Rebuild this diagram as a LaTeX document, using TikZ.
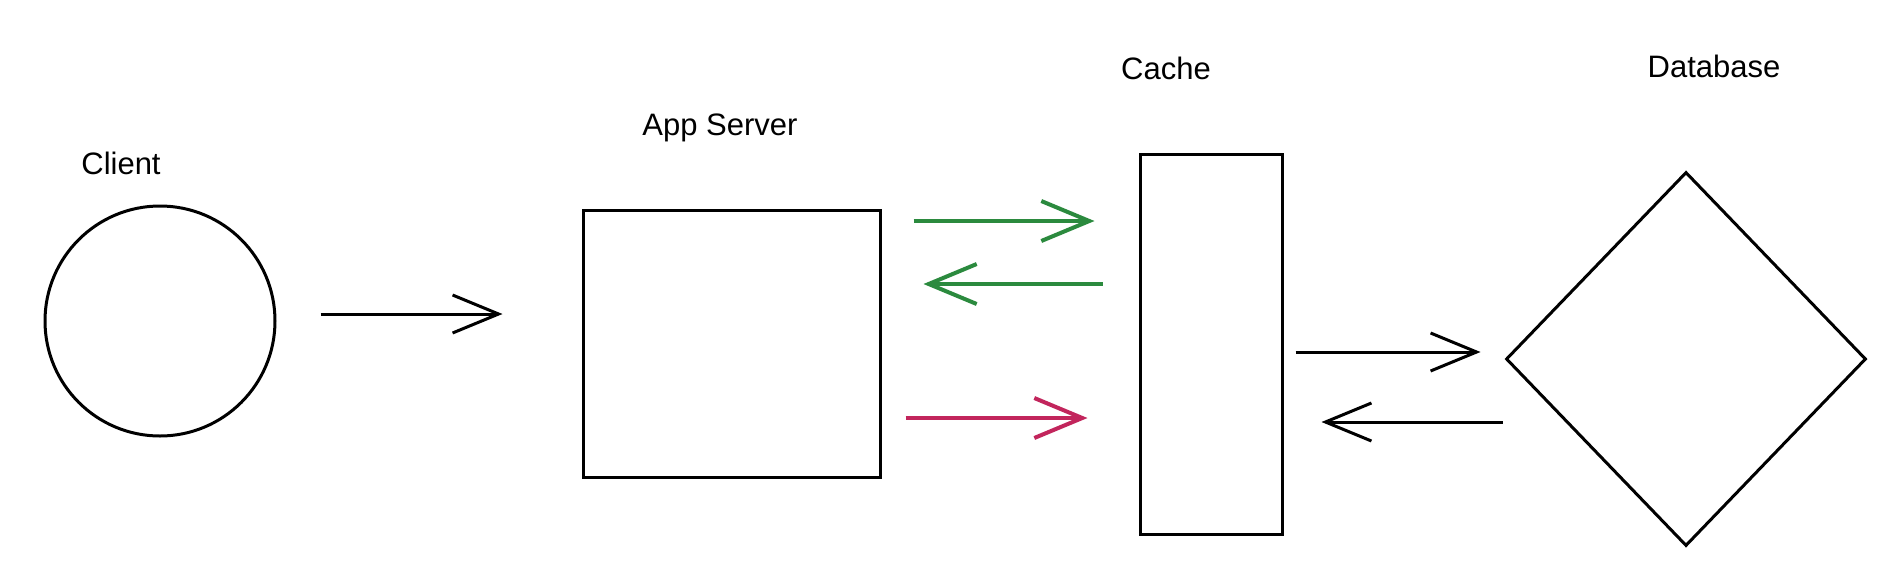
\documentclass[tikz,border=0pt]{standalone}
\usepackage{fontspec}
\setmainfont{Liberation Sans}
\usetikzlibrary{arrows.meta,shapes.geometric,calc}
\definecolor{exgreen}{HTML}{2B8A3E}
\definecolor{exred}{HTML}{C2255C}
\begin{document}
\begin{tikzpicture}[x=1pt,y=-1pt,
  shapeline/.style={draw=black,line width=3pt,inner sep=0pt,fill=white},
  lbl/.style={font=\fontsize{31}{37}\selectfont,inner sep=0pt},
  conn/.style={line width=3pt,-{Straight Barb[length=46pt,width=38pt,line width=3pt]}},
  cconn/.style={line width=4.5pt,-{Straight Barb[length=48pt,width=40pt,line width=4pt]}}]
\useasboundingbox[fill=white] (0,0) rectangle (1882,571);
% shapes
\node[shapeline,circle,minimum size=230pt] (client) at (160,321) {};
\node[shapeline,rectangle,minimum width=297pt,minimum height=267pt] (app) at (731.5,343.5) {};
\node[shapeline,rectangle,minimum width=142pt,minimum height=380pt] (cache) at (1211,344) {};
\node[shapeline,diamond,minimum width=360pt,minimum height=374pt] (db) at (1686,359) {};
% labels
\node[lbl] (lclient) at (121,163) {Client};
\node[lbl] (lapp) at (720,128) {App Server};
\node[lbl] (lcache) at (1166,68) {Cache};
\node[lbl] (ldb) at (1714,66) {Database};
% connectors
\draw[conn] ($(client.east)+(44,-7)$) -- ($(app.west)+(-79,-29.5)$);
\draw[cconn,exgreen] ($(app.east)+(32,-122.5)$) -- ($(cache.west)+(-44,-123)$);
\draw[cconn,exgreen] ($(cache.west)+(-36,-60)$) -- ($(app.east)+(42,-59.5)$);
\draw[cconn,exred] ($(app.east)+(24,74.5)$) -- ($(cache.west)+(-51,74)$);
\draw[conn] ($(cache.east)+(12,8)$) -- ($(db.west)+(-24,-7)$);
\draw[conn] ($(db.west)+(-2,63)$) -- ($(cache.east)+(38,78)$);
\end{tikzpicture}
\end{document}
